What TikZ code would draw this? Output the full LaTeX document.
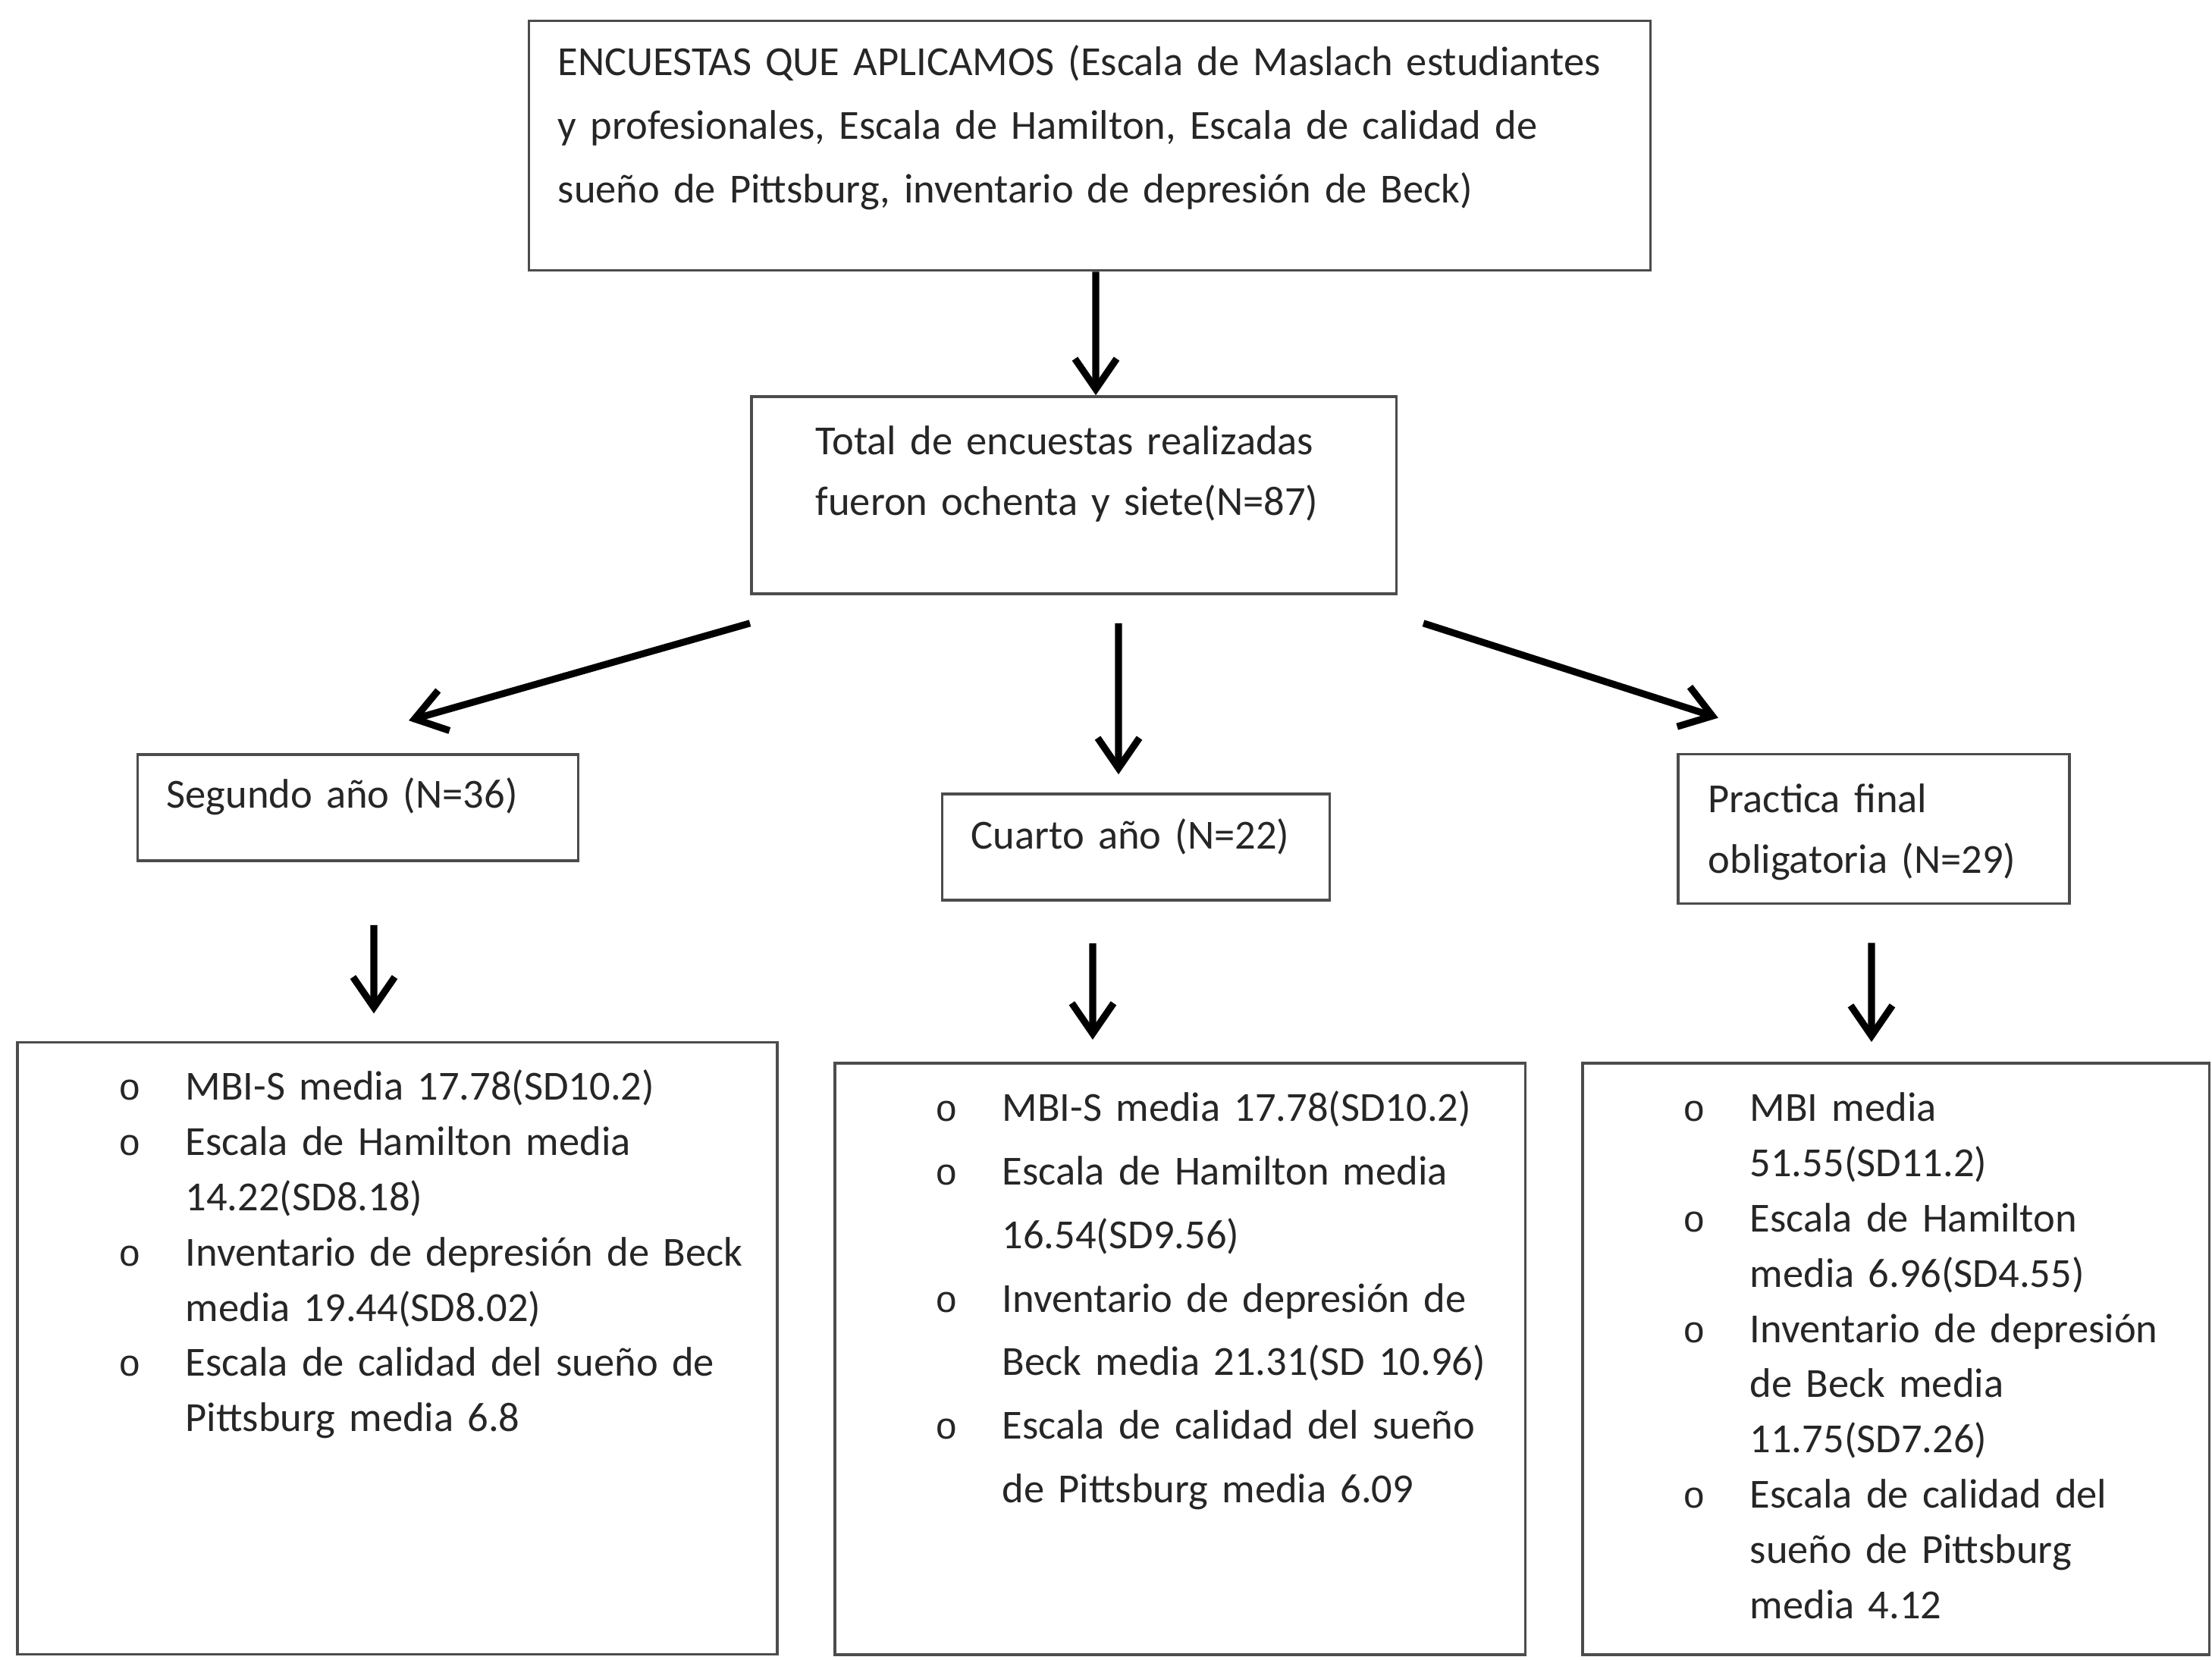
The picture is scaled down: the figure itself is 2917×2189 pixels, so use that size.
\documentclass[tikz,border=0pt]{standalone}
\usepackage{fontspec}
\setmainfont{Carlito}
\newfontfamily\vinetafont{Liberation Mono}
\usetikzlibrary{arrows.meta,positioning,calc}
\tikzset{
  caja/.style={
    draw=black!70,
    line width=1pt,
    rectangle,
    inner sep=0pt
  },
  texto/.style={
    anchor=base west,
    inner sep=0pt,
    align=left,
    text=black!85,
    text width=#1
  },
  flow/.style={-{Straight Barb[length=4mm,width=5.5mm]},line width=2.6pt}
}
\newcommand{\marca}{\llap{\makebox[0.88cm][l]{{\vinetafont\fontsize{14}{14}\selectfont o}}}}
\newcommand{\vineta}{\par\noindent\marca}
\newcommand{\fuenteA}{\fontsize{15.5}{20.7}\selectfont}
\newcommand{\fuenteB}{\fontsize{15.5}{23.8}\selectfont}
\newcommand{\fuenteC}{\fontsize{15.5}{22.7}\selectfont}

\begin{document}
\begin{tikzpicture}[x=0.01cm,y=-0.01cm]
\useasboundingbox (0,0) rectangle (2917,2189);

% Cajas del primer y segundo nivel
\node[caja, minimum width=14.78cm, minimum height=3.29cm] (encuestasA) at (1437,192) {};
\node[caja, minimum width=8.50cm, minimum height=2.60cm] (totalA) at (1416,653) {};

% Grupos por año
\node[caja, minimum width=5.81cm, minimum height=1.40cm] (segundoA) at (472,1065) {};
\node[caja, minimum width=5.11cm, minimum height=1.40cm] (cuartoA) at (1498,1117) {};
\node[caja, minimum width=5.16cm, minimum height=1.97cm] (practicaA) at (2471,1093) {};

% Resultados de cada grupo
\node[caja, minimum width=10.01cm, minimum height=8.07cm] (resSegundoA) at (524,1778) {};
\node[caja, minimum width=9.10cm, minimum height=7.80cm] (resCuartoA) at (1556,1792) {};
\node[caja, minimum width=8.26cm, minimum height=7.80cm] (resPracticaA) at (2500,1792) {};

% Textos
\node[texto=14.2cm, font=\fuenteB] (encuestasT) at (735,100)
  {ENCUESTAS QUE APLICAMOS (Escala de Maslach estudiantes\\
   y profesionales, Escala de Hamilton, Escala de calidad de\\
   sueño de Pittsburg, inventario de depresión de Beck)};
\node[texto=7.5cm, font=\fuenteC] (totalT) at (1075,600)
  {Total de encuestas realizadas\\fueron ochenta y siete(N=87)};
\node[texto=5cm, font=\fuenteA] (segundoT) at (219,1066) {Segundo año (N=36)};
\node[texto=4.5cm, font=\fuenteA] (cuartoT) at (1280,1120) {Cuarto año (N=22)};
\node[texto=4.5cm, font=\fuenteC] (practicaT) at (2252,1072)
  {Practica final\\obligatoria (N=29)};

\node[texto=7.7cm, font=\fuenteA] (resSegundoT) at (244,1451)
  {\marca MBI-S media 17.78(SD10.2)
   \vineta Escala de Hamilton media\\14.22(SD8.18)
   \vineta Inventario de depresión de Beck\\media 19.44(SD8.02)
   \vineta Escala de calidad del sueño de\\Pittsburg media 6.8};
\node[texto=6.8cm, font=\fuenteB] (resCuartoT) at (1321,1479)
  {\marca MBI-S media 17.78(SD10.2)
   \vineta Escala de Hamilton media\\16.54(SD9.56)
   \vineta Inventario de depresión de\\Beck media 21.31(SD 10.96)
   \vineta Escala de calidad del sueño\\de Pittsburg media 6.09};
\node[texto=5.8cm, font=\fuenteA] (resPracticaT) at (2307,1479)
  {\marca MBI media\\51.55(SD11.2)
   \vineta Escala de Hamilton\\media 6.96(SD4.55)
   \vineta Inventario de depresión\\de Beck media\\11.75(SD7.26)
   \vineta Escala de calidad del\\sueño de Pittsburg\\media 4.12};

% Flechas
\draw[flow] ([xshift=0.08cm]encuestasA.south) -- ([xshift=0.29cm]totalA.north);
\draw[flow] ([yshift=-0.37cm]totalA.south west) -- ([xshift=0.67cm,yshift=0.43cm]segundoA.north);
\draw[flow] ([xshift=0.59cm,yshift=-0.37cm]totalA.south) -- ([xshift=-0.23cm,yshift=0.24cm]cuartoA.north);
\draw[flow] ([xshift=0.34cm,yshift=-0.37cm]totalA.south east) -- ([xshift=-2.05cm,yshift=0.46cm]practicaA.north);

\draw[flow] ([xshift=0.21cm,yshift=-0.83cm]segundoA.south) -- ([xshift=-0.31cm,yshift=0.36cm]resSegundoA.north);
\draw[flow] ([xshift=-0.57cm,yshift=-0.55cm]cuartoA.south) -- ([xshift=-1.15cm,yshift=0.29cm]resCuartoA.north);
\draw[flow] ([xshift=-0.03cm,yshift=-0.50cm]practicaA.south) -- ([xshift=-0.32cm,yshift=0.26cm]resPracticaA.north);

\end{tikzpicture}
\end{document}
